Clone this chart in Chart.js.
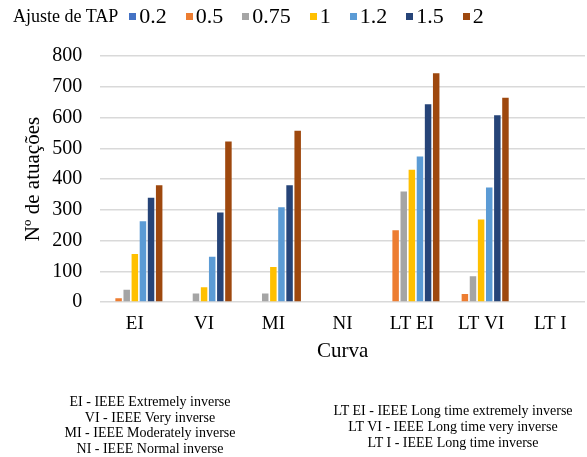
<!DOCTYPE html>
<html>
<head>
<meta charset="utf-8">
<script src="https://cdn.jsdelivr.net/npm/chart.js@4"></script>
<style>
  body { margin: 0; background: #fff; font-family: "Liberation Serif", serif; color: #000; }
  #wrap { position: relative; width: 587px; height: 457px; }
  #chart { position: absolute; left: 0; top: 0; }
  #legend { position: absolute; left: 13px; top: 3px; display: flex; align-items: center; white-space: nowrap; }
  #legend .title { font-size: 18px; margin-right: 11px; }
  #legend .item { display: flex; align-items: center; font-size: 22px; margin-right: 19px; }
  #legend .box { width: 7px; height: 7px; margin-right: 3px; }
  .notes { position: absolute; text-align: center; font-size: 14px; white-space: nowrap; transform: translateX(-50%); }
  #notesLeft { left: 150px; top: 394px; line-height: 15.5px; }
  #notesRight { left: 453px; top: 403px; line-height: 16px; }
</style>
</head>
<body>
<div id="wrap">
  <canvas id="chart" width="587" height="457"></canvas>
  <div id="legend"></div>
  <div class="notes" id="notesLeft">
    EI - IEEE Extremely inverse<br>
    VI - IEEE Very inverse<br>
    MI - IEEE Moderately inverse<br>
    NI - IEEE Normal inverse
  </div>
  <div class="notes" id="notesRight">
    LT EI - IEEE Long time extremely inverse<br>
    LT VI - IEEE Long time very inverse<br>
    LT I - IEEE Long time inverse
  </div>
</div>
<script>
const categories = ['EI', 'VI', 'MI', 'NI', 'LT EI', 'LT VI', 'LT I'];
const tapLabels = ['0.2', '0.5', '0.75', '1', '1.2', '1.5', '2'];
const tap02 = [0, 0, 0, 0, 0, 0, 0];
const tap05 = [12, 0, 0, 0, 233, 26, 0];
const tap075 = [40, 28, 28, 0, 359, 84, 0];
const tap1 = [156, 48, 114, 0, 430, 268, 0];
const tap12 = [263, 147, 308, 0, 473, 372, 0];
const tap15 = [339, 291, 380, 0, 643, 607, 0];
const tap2 = [380, 522, 557, 0, 744, 664, 0];
const colors = ['#4472C4', '#ED7D31', '#A5A5A5', '#FFC000', '#5B9BD5', '#264478', '#9E480E'];

const series = [tap02, tap05, tap075, tap1, tap12, tap15, tap2];
const serif = "'Liberation Serif', serif";

const chart = new Chart(document.getElementById('chart').getContext('2d'), {
  type: 'bar',
  data: {
    labels: categories,
    datasets: series.map((values, i) => ({
      label: tapLabels[i],
      data: values,
      backgroundColor: colors[i],
      barPercentage: 0.8,
      categoryPercentage: 0.82
    }))
  },
  options: {
    responsive: false,
    animation: false,
    layout: { padding: { top: 56, left: 21, right: 2, bottom: 93 } },
    plugins: { legend: { display: false }, tooltip: { enabled: false } },
    scales: {
      x: {
        grid: { display: false },
        border: { display: false },
        ticks: { color: '#000', font: { family: serif, size: 19 }, padding: 3 },
        title: { display: true, text: 'Curva', color: '#000', font: { family: serif, size: 21 }, padding: { top: 0, bottom: 0 } }
      },
      y: {
        min: 0,
        max: 800,
        ticks: { stepSize: 100, color: '#000', font: { family: serif, size: 20 }, padding: 18 },
        grid: { color: '#d9d9d9', lineWidth: 1.5, drawTicks: false },
        border: { display: false },
        title: { display: true, text: 'Nº de atuações', color: '#000', font: { family: serif, size: 21 }, padding: { top: 0, bottom: -12 } }
      }
    }
  }
});

// legenda em HTML com o titulo ao lado
const legend = document.getElementById('legend');
legend.innerHTML = '<span class="title">Ajuste de TAP</span>' + chart.data.datasets.map(ds =>
  '<span class="item"><span class="box" style="background:' + ds.backgroundColor + '"></span>' + ds.label + '</span>'
).join('');
</script>
</body>
</html>
